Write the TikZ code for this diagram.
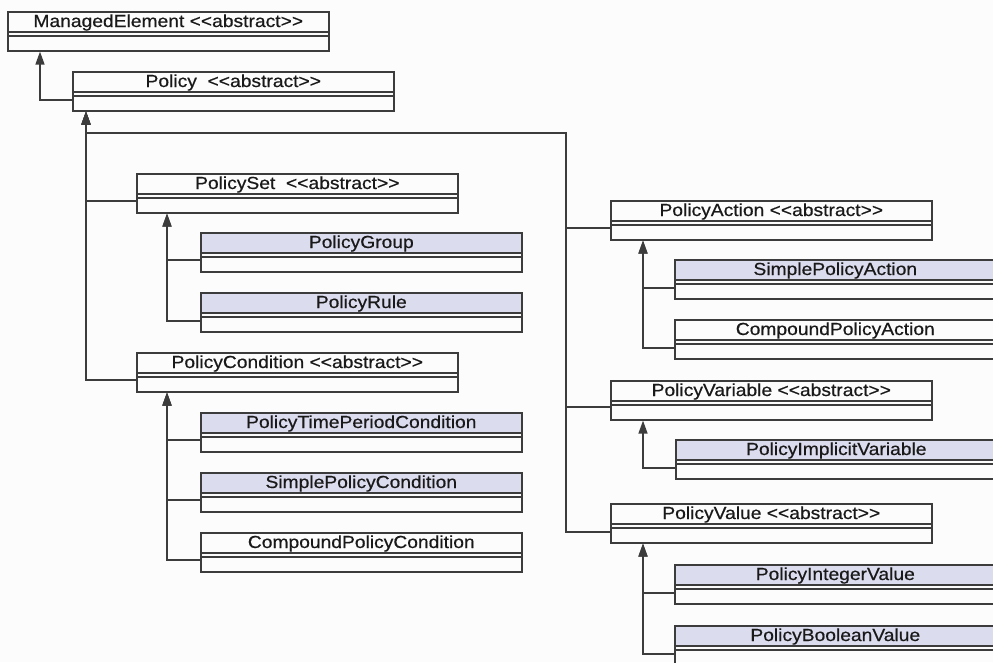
\documentclass[tikz,border=0pt]{standalone}
\usepackage{fontspec}
\setmainfont[FakeStretch=1.1,FakeBold=0.5]{Liberation Sans}
\usetikzlibrary{arrows.meta,calc}

\definecolor{inkline}{HTML}{3C3C3C}
\definecolor{concretefill}{HTML}{DCDCEF}
\definecolor{paper}{HTML}{FCFCFD}

\tikzset{
  classbox/.style={draw=inkline, line width=1.6pt, rectangle, inner sep=0pt,
    anchor=north west, minimum width=321pt, minimum height=39pt,
    path picture={
      \fill[#1] (path picture bounding box.north west)
        rectangle ([yshift=-20pt]path picture bounding box.north east);
      \draw[inkline, line width=1.5pt]
        ([yshift=-20pt]path picture bounding box.north west) --
        ([yshift=-20pt]path picture bounding box.north east);
      \draw[inkline, line width=1.5pt]
        ([yshift=-24pt]path picture bounding box.north west) --
        ([yshift=-24pt]path picture bounding box.north east);
    }},
  classbox/.default=paper,
  classtitle/.style={anchor=base, inner sep=0pt, text=black!90,
    font=\fontsize{17.5}{19}\selectfont},
  gen/.style={draw=inkline, line width=1.5pt,
    -{Triangle[length=13pt,width=9pt]}},
}

% stereotype marker, typed so that no guillemet ligature forms
\newcommand\abst{<{}<abstract>{}>}

% one UML class: name, left, top, fill, title
\newcommand\umlclass[5]{%
  \node[classbox=#4] (#1) at (#2,#3) {};
  \node[classtitle] (#1-t) at ($(#1.north)+(0,16)$) {#5};
}

\begin{document}
\begin{tikzpicture}[x=1pt,y=-1pt]
  \useasboundingbox (0,0) rectangle (993,662);
  \clip (0,0) rectangle (993,662);
  \fill[paper] (0,0) rectangle (993,662);

  % classes
  \umlclass{me}{7}{11}{paper}{ManagedElement \abst}
  \umlclass{pol}{72}{71}{paper}{Policy \ \abst}
  \umlclass{pset}{136}{173}{paper}{PolicySet \ \abst}
  \umlclass{pgrp}{200}{232}{concretefill}{PolicyGroup}
  \umlclass{prule}{200}{292}{concretefill}{PolicyRule}
  \umlclass{pcond}{136}{352}{paper}{PolicyCondition \abst}
  \umlclass{ptpc}{200}{412}{concretefill}{PolicyTimePeriodCondition}
  \umlclass{spc}{200}{472}{concretefill}{SimplePolicyCondition}
  \umlclass{cpc}{200}{532}{paper}{CompoundPolicyCondition}
  \umlclass{pact}{610}{200}{paper}{PolicyAction \abst}
  \umlclass{spa}{674}{259}{concretefill}{SimplePolicyAction}
  \umlclass{cpa}{674}{319}{paper}{CompoundPolicyAction}
  \umlclass{pvar}{610}{380}{paper}{PolicyVariable \abst}
  \umlclass{piv}{675}{439}{concretefill}{PolicyImplicitVariable}
  \umlclass{pval}{610}{503}{paper}{PolicyValue \abst}
  \umlclass{pint}{674}{564}{concretefill}{PolicyIntegerValue}
  \umlclass{pbool}{674}{625}{concretefill}{PolicyBooleanValue}

  % junction of the right-hand branch
  \coordinate (rj) at (566,133);

  % generalisations
  \draw[gen] ([yshift=-29pt]pol.north west) -| ([xshift=33pt]me.south west);

  \draw[gen] ([yshift=-28pt]pset.north west) -| ([xshift=14pt]pol.south west);
  \draw[gen] ([yshift=-28pt]pcond.north west) -| ([xshift=14pt]pol.south west);
  \draw[gen] ([yshift=-28pt]pact.north west) -| (rj) -| ([xshift=14pt]pol.south west);
  \draw[gen] ([yshift=-27pt]pvar.north west) -| (rj) -| ([xshift=14pt]pol.south west);
  \draw[gen] ([yshift=-29pt]pval.north west) -| (rj) -| ([xshift=14pt]pol.south west);

  \draw[gen] ([yshift=-28pt]pgrp.north west) -| ([xshift=31pt]pset.south west);
  \draw[gen] ([yshift=-29pt]prule.north west) -| ([xshift=31pt]pset.south west);

  \draw[gen] ([yshift=-28pt]ptpc.north west) -| ([xshift=31pt]pcond.south west);
  \draw[gen] ([yshift=-28pt]spc.north west) -| ([xshift=31pt]pcond.south west);
  \draw[gen] ([yshift=-28pt]cpc.north west) -| ([xshift=31pt]pcond.south west);

  \draw[gen] ([yshift=-29pt]spa.north west) -| ([xshift=33pt]pact.south west);
  \draw[gen] ([yshift=-29pt]cpa.north west) -| ([xshift=33pt]pact.south west);

  \draw[gen] ([yshift=-29pt]piv.north west) -| ([xshift=33pt]pvar.south west);

  \draw[gen] ([yshift=-29pt]pint.north west) -| ([xshift=33pt]pval.south west);
  \draw[gen] ([yshift=-29pt]pbool.north west) -| ([xshift=33pt]pval.south west);
\end{tikzpicture}
\end{document}
